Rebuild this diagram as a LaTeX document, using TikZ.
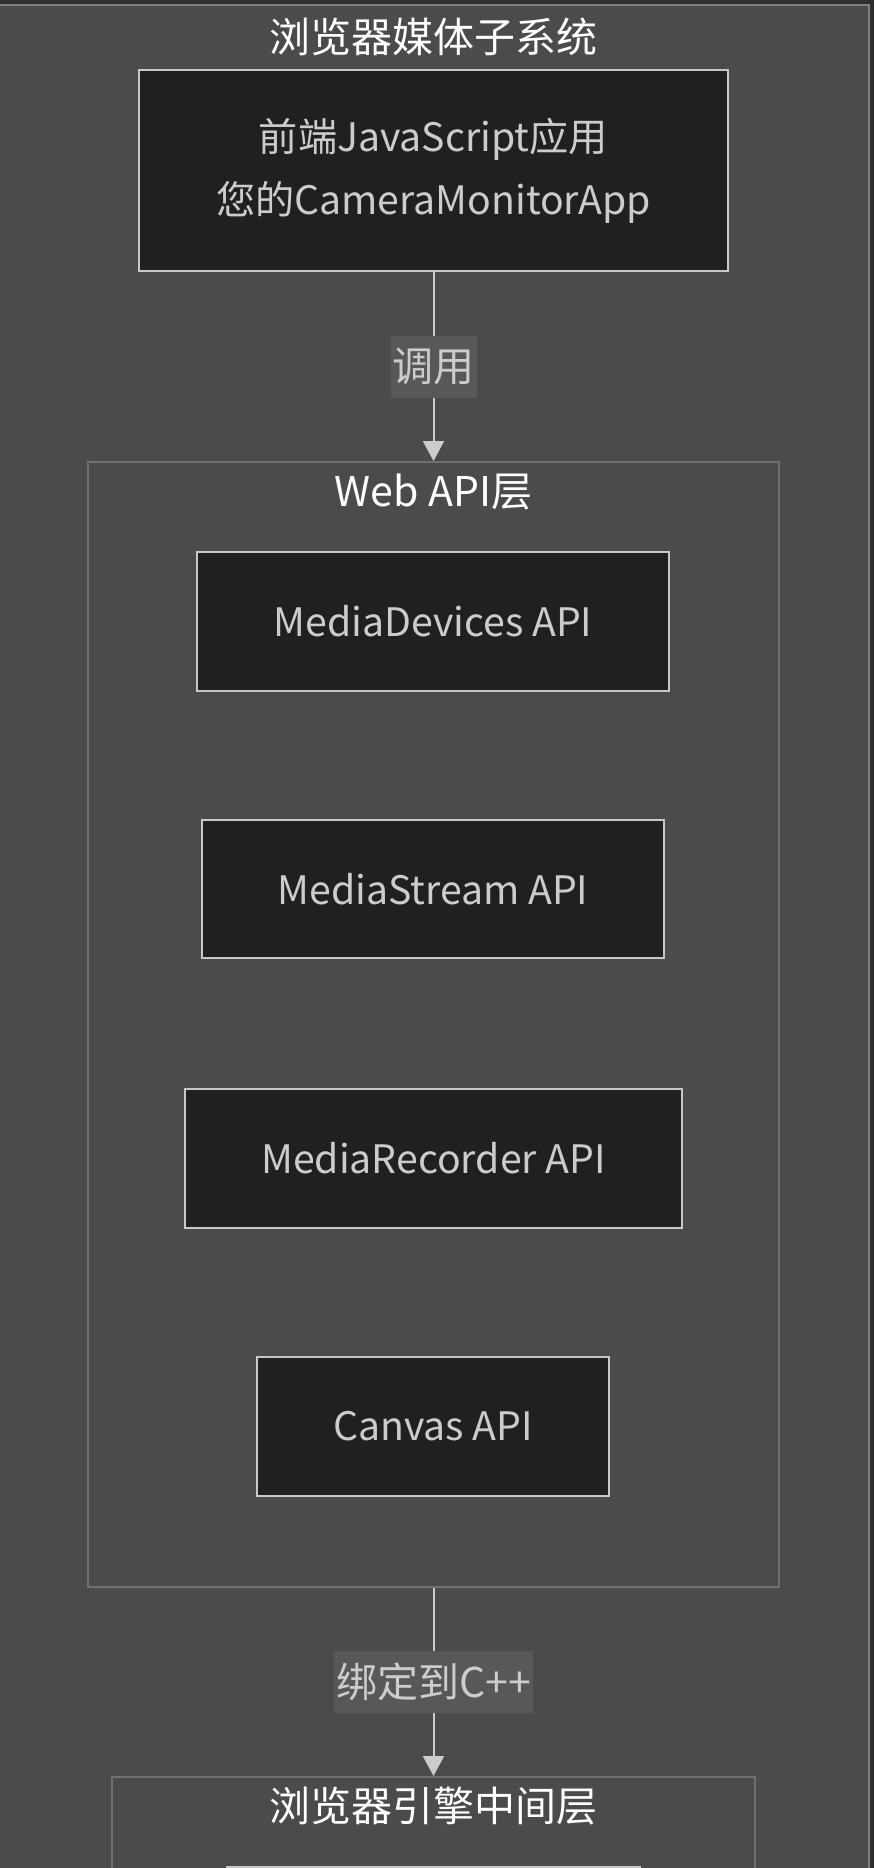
\documentclass[tikz,border=0pt]{standalone}
\usepackage{fontspec}
\setmainfont{Noto Sans CJK SC}
\usetikzlibrary{arrows.meta}

\definecolor{pagebg}{HTML}{2F2F2F}
\definecolor{clusterbg}{HTML}{4A4B4A}
\definecolor{outerline}{HTML}{808080}
\definecolor{clusterline}{HTML}{707070}
\definecolor{boxfill}{HTML}{1F2020}
\definecolor{boxline}{HTML}{C8C8C8}
\definecolor{labelbg}{HTML}{585858}
\definecolor{textgray}{HTML}{CCCCCC}

\tikzset{
  apibox/.style={draw=boxline,line width=1pt,fill=boxfill,text=textgray,
    font=\fontsize{19.6}{31.5}\selectfont,align=center,inner sep=0pt},
  cluster/.style={draw=clusterline,line width=1pt,fill=clusterbg,inner sep=0pt},
  clustertitle/.style={text=white,font=\fontsize{20.5}{24}\selectfont,inner sep=0pt},
  flow/.style={draw=textgray,line width=1pt,-{Triangle[length=10pt,width=10.5pt]}},
  flowlabel/.style={fill=labelbg,text=textgray,font=\fontsize{20.5}{24}\selectfont,
    inner xsep=1pt,inner ysep=0pt,minimum height=31pt}
}

\begin{document}
\begin{tikzpicture}[x=0.5pt,y=-0.5pt]
  \useasboundingbox (0,0) rectangle (874,1868);
  \clip (0,0) rectangle (874,1868);
  \fill[pagebg] (0,0) rectangle (874,1868);

  % Browser media subsystem (outer frame)
  \node[cluster,draw=outerline,minimum width=444.5pt,minimum height=1300pt] (subsys) at (424.5,1305) {};
  \node[clustertitle] (subsystitle) at (433.5,37) {浏览器媒体子系统};

  % Frontend app
  \node[apibox,minimum width=294.5pt,minimum height=100.5pt] (app) at (433.5,170.5)
    {前端JavaScript应用\\您的CameraMonitorApp};

  % Web API layer
  \node[cluster,minimum width=345.5pt,minimum height=562.5pt] (webapi) at (433.5,1024.5) {};
  \node[clustertitle] (webapititle) at (433.5,492) {Web API层};
  \node[apibox,minimum width=236pt,minimum height=69.5pt] (devices) at (433,621.5) {MediaDevices API};
  \node[apibox,minimum width=231pt,minimum height=69pt] (stream) at (433,889) {MediaStream API};
  \node[apibox,minimum width=248.5pt,minimum height=69.5pt] (recorder) at (433.5,1158.5) {MediaRecorder API};
  \node[apibox,minimum width=176pt,minimum height=69.5pt] (canvas) at (433,1426.5) {Canvas API};

  % Browser engine middle layer (runs off the page)
  \node[cluster,minimum width=321.5pt,minimum height=300pt] (engine) at (433.5,2077) {};
  \node[clustertitle] (enginetitle) at (433.5,1806) {浏览器引擎中间层};
  \node[apibox,minimum width=206.5pt,minimum height=69.5pt] (binding) at (433.5,1936.5) {};

  % Calls between layers
  \draw[flow] (app.south) -- node[flowlabel] (call) {调用} (webapi.north);
  \draw[flow] (webapi.south) -- node[flowlabel] (bind) {绑定到C++} (engine.north);
\end{tikzpicture}
\end{document}
